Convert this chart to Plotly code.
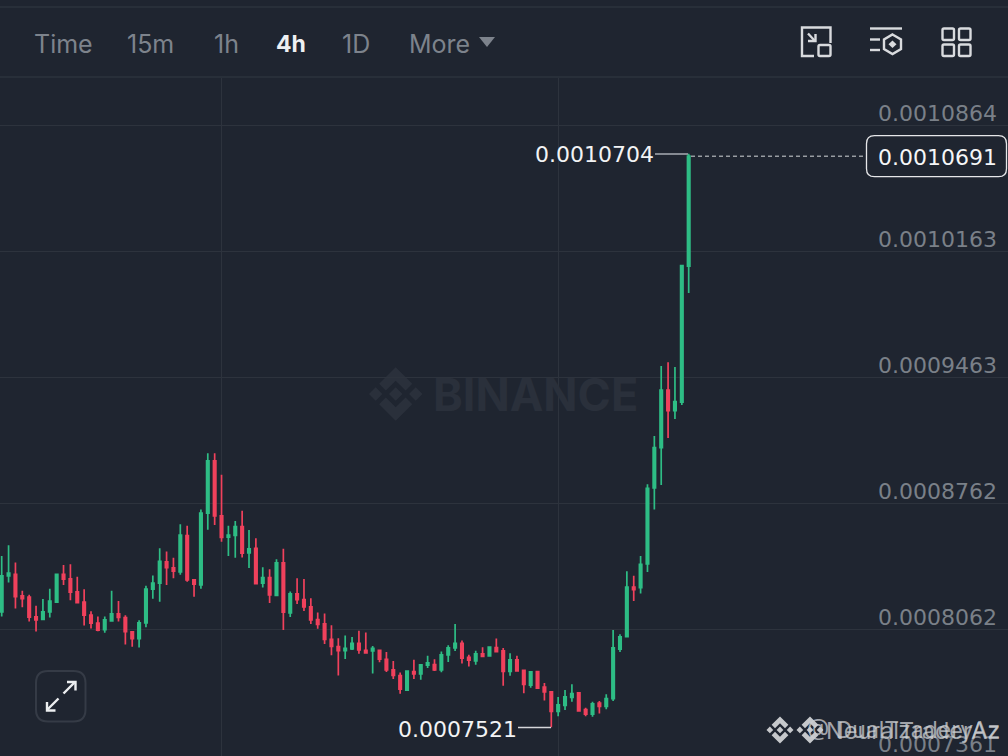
import plotly.graph_objects as go

# prices in units of 1e-7
opens = [8161, 8361, 8370, 8250, 8243, 8134, 8119, 8161, 8215, 8370,
         8345, 8272, 8215, 8143, 8099, 8062, 8111, 8150, 8130, 8050,
         8012, 8100, 8287, 8321, 8439, 8406, 8383, 8585, 8339, 8311,
         8709, 9000, 8694, 8576, 8585, 8635, 8489, 8514, 8320, 8351,
         8252, 8433, 8155, 8261, 8229, 8189, 8118, 8094, 8009, 7969,
         7946, 7956, 7987, 7948, 7944, 7948, 7898, 7839, 7808, 7726,
         7830, 7817, 7865, 7869, 7839, 7922, 7961, 7987, 7908, 7889,
         7928, 7917, 7963, 7945, 7830, 7895, 7836, 7754, 7830, 7743,
         7717, 7608, 7642, 7686, 7712, 7618, 7593, 7655, 7636, 7679,
         7954, 8023, 8298, 8295, 8427, 8849, 9073, 9393, 9278, 9326,
         10081]
highs = [8472, 8531, 8435, 8278, 8256, 8195, 8232, 8289, 8372, 8422,
         8426, 8356, 8287, 8165, 8136, 8136, 8278, 8221, 8143, 8052,
         8115, 8306, 8363, 8515, 8496, 8461, 8648, 8639, 8343, 8729,
         9042, 9042, 8922, 8639, 8666, 8722, 8616, 8570, 8409, 8398,
         8453, 8511, 8274, 8348, 8344, 8237, 8157, 8152, 8087, 8015,
         8030, 8022, 8057, 8046, 7972, 7950, 7939, 7889, 7824, 7837,
         7895, 7872, 7917, 7898, 7941, 7976, 8094, 8002, 7923, 7945,
         7965, 7969, 8013, 7960, 7932, 7917, 7838, 7830, 7832, 7766,
         7721, 7688, 7727, 7760, 7714, 7629, 7662, 7667, 7704, 8060,
         8037, 8387, 8361, 8472, 8869, 9138, 9526, 9547, 9521, 10087,
         10704]
lows = [8135, 8324, 8180, 8187, 8108, 8052, 8117, 8130, 8211, 8311,
        8226, 8211, 8086, 8069, 8054, 8045, 8106, 8108, 7980, 7967,
        7963, 8076, 8234, 8217, 8311, 8348, 8367, 8328, 8245, 8289,
        8617, 8644, 8550, 8472, 8461, 8463, 8405, 8316, 8296, 8211,
        8252, 8061, 8133, 8205, 8166, 8094, 8067, 7983, 7920, 7808,
        7900, 7950, 7928, 7932, 7819, 7881, 7828, 7789, 7706, 7722,
        7789, 7785, 7850, 7833, 7826, 7883, 7944, 7874, 7858, 7867,
        7912, 7914, 7936, 7751, 7806, 7830, 7710, 7740, 7734, 7669,
        7521, 7581, 7616, 7662, 7606, 7581, 7579, 7597, 7621, 7666,
        7939, 8021, 8222, 8263, 8383, 8729, 8866, 9127, 9232, 9310,
        9931]
closes = [8361, 8376, 8246, 8234, 8132, 8117, 8161, 8221, 8370, 8343,
          8271, 8213, 8143, 8099, 8060, 8117, 8150, 8130, 8052, 8012,
          8100, 8287, 8321, 8441, 8407, 8387, 8587, 8339, 8315, 8709,
          9000, 8694, 8574, 8587, 8635, 8487, 8511, 8318, 8351, 8255,
          8433, 8159, 8261, 8229, 8189, 8117, 8092, 8009, 7969, 7946,
          7959, 7987, 7950, 7933, 7959, 7898, 7839, 7808, 7732, 7832,
          7817, 7867, 7878, 7839, 7922, 7961, 7987, 7904, 7893, 7928,
          7914, 7965, 7941, 7830, 7895, 7834, 7758, 7828, 7738, 7717,
          7608, 7645, 7690, 7708, 7612, 7593, 7651, 7636, 7679, 7962,
          8023, 8298, 8284, 8425, 8847, 9073, 9393, 9278, 9328, 10083,
          10691]

price_ticks = ["0.0010864", "0.0010163", "0.0009463", "0.0008762", "0.0008062", "0.0007361"]
time_ticks = [32, 81]
tabs = ["Time", "15m", "1h", "4h", "1D", "More"]
last_price = "0.0010691"
high_label = "0.0010704"
low_label = "0.0007521"

W, H = 1008, 756
BG = "#1f2530"
GRID = "#2d333d"
GREEN = "#2ebd85"
RED = "#f0415c"
FONT = "Inter"
NUM_FONT = "DejaVu Sans"  # same digit widths as the reference's price labels
ICON = "#d9dbde"


def scale(values):
    return [round(v * 1e-7, 7) for v in values]


# pixel position -> paper fraction, for the toolbar and the logos
def px(x, y):
    return f"{x / W:.5f},{1 - y / H:.5f}"


def poly(points, close=True):
    d = "M" + " L".join(px(x, y) for x, y in points)
    return d + " Z" if close else d


def rrect(x0, y0, x1, y1, r):
    return (f"M{px(x0 + r, y0)} L{px(x1 - r, y0)} Q{px(x1, y0)} {px(x1, y0 + r)} "
            f"L{px(x1, y1 - r)} Q{px(x1, y1)} {px(x1 - r, y1)} "
            f"L{px(x0 + r, y1)} Q{px(x0, y1)} {px(x0, y1 - r)} "
            f"L{px(x0, y0 + r)} Q{px(x0, y0)} {px(x0 + r, y0)} Z")


def logo(cx, cy, r):
    parts = []
    s = 0.25
    for dx in (-0.75, 0, 0.75):
        parts.append(poly([(cx + (dx - s) * r, cy), (cx + dx * r, cy - s * r),
                           (cx + (dx + s) * r, cy), (cx + dx * r, cy + s * r)]))
    for sign in (-1, 1):
        chevron = [(0, 1), (0.62, 0.38), (0.37, 0.13), (0, 0.5), (-0.37, 0.13), (-0.62, 0.38)]
        parts.append(poly([(cx + a * r, cy + sign * b * r) for a, b in chevron]))
    return " ".join(parts)


def add_path(d, color=None, fill=None, width=2.4, layer="above"):
    fig.add_shape(type="path", path=d, xref="paper", yref="paper", layer=layer,
                  line=dict(color=color, width=width) if color else dict(width=0),
                  fillcolor=fill)


def add_text(text, x, y, size, color, anchor="left", weight="normal", family=FONT):
    fig.add_annotation(text=text, x=x / W, y=1 - y / H, xref="paper", yref="paper",
                       xanchor=anchor, yanchor="middle", showarrow=False,
                       font=dict(family=family, size=size, color=color, weight=weight))


fig = go.Figure(go.Candlestick(
    x=list(range(len(opens))),
    open=scale(opens), high=scale(highs), low=scale(lows), close=scale(closes),
    increasing=dict(line=dict(color=GREEN, width=1.7), fillcolor=GREEN),
    decreasing=dict(line=dict(color=RED, width=1.7), fillcolor=RED),
    whiskerwidth=0,
))

fig.update_layout(
    width=W, height=H, margin=dict(l=0, r=0, t=0, b=0),
    paper_bgcolor=BG, plot_bgcolor=BG, showlegend=False, boxgap=0.5,
    xaxis=dict(range=[-0.247, 146.48], tickvals=time_ticks, showticklabels=False,
               showgrid=True, gridcolor=GRID, gridwidth=1, zeroline=False,
               rangeslider=dict(visible=False), ticks=""),
    yaxis=dict(range=[0.0007361, 0.0011125], autorange=False, domain=[0, 678 / 756],
               tickvals=[float(t) for t in price_ticks], showticklabels=False,
               showgrid=True, gridcolor=GRID, gridwidth=1, zeroline=False, ticks=""),
)

# price axis labels sit just above their grid lines
for t in price_ticks:
    fig.add_annotation(text=t, x=999 / W, xref="paper", y=float(t), yref="y",
                       xanchor="right", yanchor="middle", yshift=12, showarrow=False,
                       font=dict(family=NUM_FONT, size=22, color="#7a8088"))

# toolbar
for y in (7, 77):
    fig.add_shape(type="line", xref="paper", yref="paper", x0=0, x1=1,
                  y0=1 - y / H, y1=1 - y / H, line=dict(color=GRID, width=1.5))
tab_x = [32, 125, 212, 274, 340, 407]
for name, x in zip(tabs, tab_x):
    if name == "4h":
        add_text(name, x, 43.5, 23, "#eef0f2", weight="bold")
    else:
        add_text(name, x, 43.5, 25, "#7d838c")
add_path(poly([(479, 37), (495, 37), (487, 47)]), fill="#7d838c")

# toolbar icons
add_path(poly([(814, 56), (802, 56), (802, 27.5), (830.5, 27.5), (830.5, 43)], close=False), color=ICON)
add_path(rrect(818.5, 45, 830.5, 56, 1.5), color=ICON)
add_path(poly([(808, 33.5), (815, 41)], close=False), color=ICON)
add_path(poly([(808, 41), (815.5, 41), (815.5, 34)], close=False), color=ICON)
add_path(poly([(870, 28.5), (902, 28.5)], close=False), color=ICON)
add_path(poly([(870, 39.5), (880, 39.5)], close=False), color=ICON)
add_path(poly([(870, 50), (880, 50)], close=False), color=ICON)
add_path(poly([(892.5, 34.5), (901, 39.5), (901, 49), (892.5, 54), (884, 49), (884, 39.5)]), color=ICON)
add_path(poly([(892.5, 40.5), (896.5, 44.3), (892.5, 48), (888.5, 44.3)]), fill=ICON)
for x0 in (942.5, 959):
    for y0 in (28.5, 44.5):
        add_path(rrect(x0, y0, x0 + 11.5, y0 + 11.5, 1.5), color=ICON)

# watermark
add_path(logo(395.7, 394, 26.7), fill="#2a303b", layer="below")
add_text("BINANCE", 431, 394, 45, "#2a303b", weight="bold")

# high and low markers
fig.add_shape(type="line", xref="paper", yref="paper", x0=655 / W, x1=688 / W,
              y0=1 - 154 / H, y1=1 - 154 / H, line=dict(color="#a9adb3", width=1.5))
add_text(high_label, 656, 155, 22, "#f2f3f4", anchor="right", family=NUM_FONT)
fig.add_shape(type="line", xref="paper", yref="paper", x0=518 / W, x1=551 / W,
              y0=1 - 727.5 / H, y1=1 - 727.5 / H, line=dict(color="#d5d7da", width=1.5))
add_text(low_label, 519, 729, 22, "#f2f3f4", anchor="right", family=NUM_FONT)

# last price line and box
fig.add_shape(type="line", xref="paper", yref="y", x0=691 / W, x1=866 / W,
              y0=float(last_price), y1=float(last_price),
              line=dict(color="#d5d7da", width=1, dash="4px,3px"))
add_path(rrect(866.5, 135.7, 1006.5, 176.7, 8), color="#e6e7e9", fill=BG, width=1.3)
add_text(last_price, 999, 157, 22, "#f5f6f7", anchor="right", family=NUM_FONT)

# expand button
add_path(rrect(36, 671, 85.5, 721.5, 12), color="#353b46", width=2)
add_path(poly([(63.5, 693.5), (75, 682)], close=False), color="#eceef0")
add_path(poly([(67, 682), (75.5, 682), (75.5, 690.5)], close=False), color="#eceef0")
add_path(poly([(47, 710), (58.5, 698.5)], close=False), color="#eceef0")
add_path(poly([(47, 702), (47, 710.5), (55.5, 710.5)], close=False), color="#eceef0")

# overlaid account watermarks
add_path(logo(780, 730, 13.5), fill="#c6c8cb")
add_path(logo(810, 730, 13.5), fill="#c6c8cb")
add_text("@ DualTzaderyAz", 1002, 730, 23, "rgba(205,207,210,0.75)", anchor="right")
add_text("NeuralTraderAz", 1002, 730, 23.5, "rgba(205,207,210,0.75)", anchor="right")

fig.write_html("out.html", config=dict(displayModeBar=False),
               post_script="document.body.style.margin='0';")
